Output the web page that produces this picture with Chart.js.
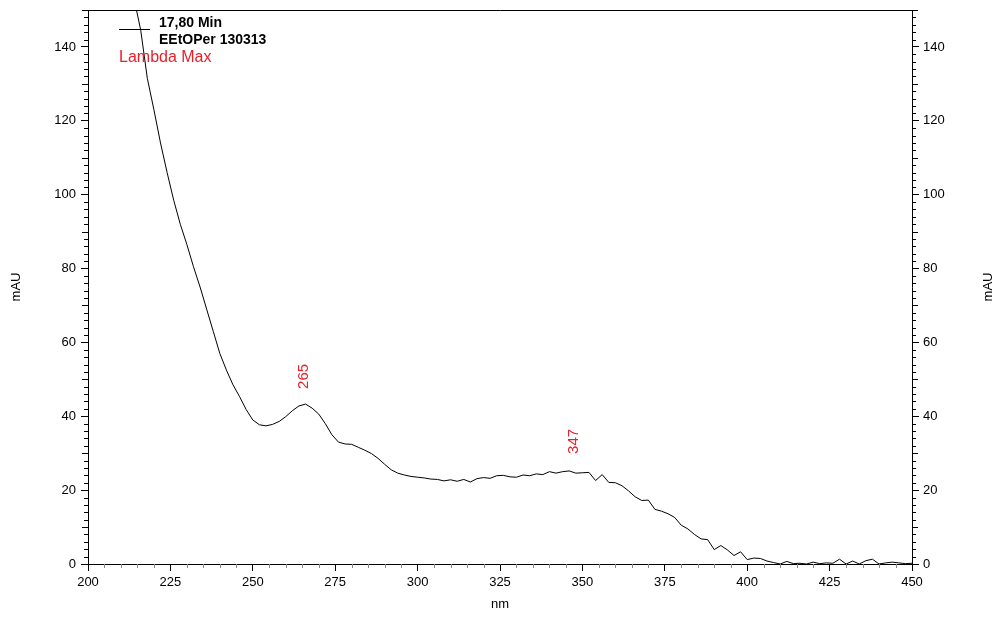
<!DOCTYPE html>
<html>
<head>
<meta charset="utf-8">
<script src="https://cdn.jsdelivr.net/npm/chart.js@4/dist/chart.umd.min.js"></script>
<style>
  html, body { margin: 0; padding: 0; background: #fff; }
  #wrap { width: 1000px; height: 622px; }
</style>
</head>
<body>
<div id="wrap"><canvas id="c" width="1000" height="622"></canvas></div>
<script>
// ---- data ----
const wavelengths = [
  214,216,218,220,222,224,226,228,230,232,234,236,238,240,242,244,246,248,250,
  252,254,256,258,260,262,264,266,268,270,272,274,276,278,280,282,284,286,288,
  290,292,294,296,298,300,302,304,306,308,310,312,314,316,318,320,322,324,326,
  328,330,332,334,336,338,340,342,344,346,348,350,352,354,356,358,360,362,364,
  366,368,370,372,374,376,378,380,382,384,386,388,390,392,394,396,398,400,402,
  404,406,408,410,412,414,416,418,420,422,424,426,428,430,432,434,436,438,440,
  442,444,446,448,450
];
const absorbance = [
  153,144.5,131.5,123,114,106,98.5,92,86.5,80.5,75,69,63,57,52.5,48.5,45.3,41.8,39,
  37.7,37.4,37.8,38.6,39.9,41.5,42.8,43.3,42.2,40.6,38,35,33,32.5,32.4,31.6,30.8,29.9,28.6,
  27,25.5,24.6,24.1,23.7,23.5,23.3,23,22.9,22.5,22.8,22.4,22.9,22.2,23.1,23.4,23.2,23.9,24,
  23.6,23.5,24.1,23.9,24.4,24.2,25,24.6,25,25.2,24.6,24.7,24.8,22.6,24.2,22.1,22,21.2,19.8,
  18.2,17.2,17.3,14.8,14.3,13.6,12.6,10.5,9.5,8,6.8,6.6,3.9,5,3.8,2.3,3.3,1.2,1.6,
  1.5,0.8,0.4,0,0.7,0.1,0.2,0,0.5,0.1,0.3,0.2,1.3,0,0.8,0,0.9,1.3,0,
  0.3,0.5,0.3,0.1,0.2
];
const lambdaMax = [265, 347];
const legendLines = ['17,80 Min', 'EEtOPer 130313'];
const lambdaTitle = 'Lambda Max';
const xTitle = 'nm';
const yTitle = 'mAU';
const xRange = [200, 450];
const yRange = [0, 150];

const FONT = '"Liberation Sans", Arial, Helvetica, sans-serif';
const RED = '#e8202a';

const points = wavelengths.map((w, i) => ({ x: w, y: absorbance[i] }));

const decor = {
  id: 'decor',
  afterDraw(chart) {
    const ctx = chart.ctx;
    const a = chart.chartArea;
    const xs = chart.scales.x, yl = chart.scales.y;
    ctx.save();
    ctx.strokeStyle = '#000';
    ctx.lineWidth = 1;
    // top frame line
    ctx.beginPath();
    ctx.moveTo(a.left, Math.round(a.top) + 0.5);
    ctx.lineTo(a.right + 0.5, Math.round(a.top) + 0.5);
    ctx.stroke();
    // minor y ticks
    ctx.beginPath();
    for (let v = yRange[0]; v <= yRange[1]; v += 2) {
      if (v % 20 === 0) continue;
      const len = (v % 10 === 0) ? 6 : 4;
      const py = Math.round(yl.getPixelForValue(v)) + 0.5;
      ctx.moveTo(a.left, py); ctx.lineTo(a.left - len, py);
      ctx.moveTo(a.right, py); ctx.lineTo(a.right + len, py);
    }
    ctx.stroke();
    // minor x ticks
    ctx.strokeStyle = '#888';
    ctx.beginPath();
    for (let v = xRange[0]; v <= xRange[1]; v += 5) {
      if (v % 25 === 0) continue;
      const px = Math.round(xs.getPixelForValue(v)) + 0.5;
      ctx.moveTo(px, a.bottom); ctx.lineTo(px, a.bottom + 4);
    }
    ctx.stroke();
    // right axis title (reads bottom-to-top like the left one)
    ctx.fillStyle = '#000';
    ctx.font = '13px ' + FONT;
    ctx.save();
    ctx.translate(988, (a.top + a.bottom) / 2);
    ctx.rotate(-Math.PI / 2);
    ctx.textAlign = 'center';
    ctx.textBaseline = 'middle';
    ctx.fillText(yTitle, 0, 0);
    ctx.restore();
    // legend
    ctx.strokeStyle = '#000';
    ctx.beginPath();
    ctx.moveTo(119, 29.5); ctx.lineTo(150, 29.5);
    ctx.stroke();
    ctx.font = 'bold 14px ' + FONT;
    ctx.textAlign = 'left';
    ctx.textBaseline = 'alphabetic';
    ctx.fillText(legendLines[0], 159, 27);
    ctx.fillText(legendLines[1], 159, 43.5);
    ctx.fillStyle = RED;
    ctx.font = '16px ' + FONT;
    ctx.fillText(lambdaTitle, 119, 61.5);
    // lambda max labels
    ctx.font = '15px ' + FONT;
    lambdaMax.forEach(nm => {
      let idx = 0, best = Infinity;
      wavelengths.forEach((w, i) => { const d = Math.abs(w - nm); if (d < best) { best = d; idx = i; } });
      const px = xs.getPixelForValue(nm);
      const py = yl.getPixelForValue(absorbance[idx]) - 17;
      ctx.save();
      ctx.translate(px + 5.5, py);
      ctx.rotate(-Math.PI / 2);
      ctx.textAlign = 'left';
      ctx.textBaseline = 'alphabetic';
      ctx.fillText(String(nm), 0, 0);
      ctx.restore();
    });
    ctx.restore();
  }
};

const keepMajor = s => { s.ticks = s.ticks.filter(t => t.value % 20 === 0); };
const fitY = s => { s.width = 88; s.paddingTop = 0; s.paddingBottom = 0; };

new Chart(document.getElementById('c'), {
  type: 'line',
  data: {
    datasets: [{
      data: points,
      borderColor: '#000',
      borderWidth: 1,
      pointRadius: 0,
      tension: 0,
      fill: false
    }]
  },
  options: {
    responsive: false,
    animation: false,
    events: [],
    layout: { padding: { top: 10, left: 0, right: 0, bottom: 0 } },
    plugins: { legend: { display: false }, tooltip: { enabled: false } },
    scales: {
      x: {
        type: 'linear',
        position: 'bottom',
        min: xRange[0], max: xRange[1],
        ticks: { stepSize: 25, color: '#000', font: { family: FONT, size: 13 }, padding: 4, maxRotation: 0 },
        grid: { drawOnChartArea: false, drawTicks: true, tickLength: 7, color: '#000' },
        border: { display: true, color: '#000', width: 1 },
        title: { display: true, text: xTitle, color: '#000', font: { family: FONT, size: 13 }, padding: { top: 0, bottom: 10 } },
        afterFit: s => { s.height = 58; s.paddingLeft = 0; s.paddingRight = 0; }
      },
      y: {
        type: 'linear',
        position: 'left',
        min: yRange[0], max: yRange[1],
        afterBuildTicks: keepMajor,
        ticks: { stepSize: 20, color: '#000', font: { family: FONT, size: 13 }, padding: 5 },
        grid: { drawOnChartArea: false, drawTicks: true, tickLength: 7, color: '#000' },
        border: { display: true, color: '#000', width: 1 },
        title: { display: true, text: yTitle, color: '#000', font: { family: FONT, size: 13 }, padding: { top: 9, bottom: 0 } },
        afterFit: fitY
      },
      y2: {
        type: 'linear',
        position: 'right',
        min: yRange[0], max: yRange[1],
        afterBuildTicks: keepMajor,
        ticks: { stepSize: 20, color: '#000', font: { family: FONT, size: 13 }, padding: 4 },
        grid: { drawOnChartArea: false, drawTicks: true, tickLength: 7, color: '#000' },
        border: { display: true, color: '#000', width: 1 },
        title: { display: false },
        afterFit: fitY
      }
    }
  },
  plugins: [decor]
});
</script>
</body>
</html>
